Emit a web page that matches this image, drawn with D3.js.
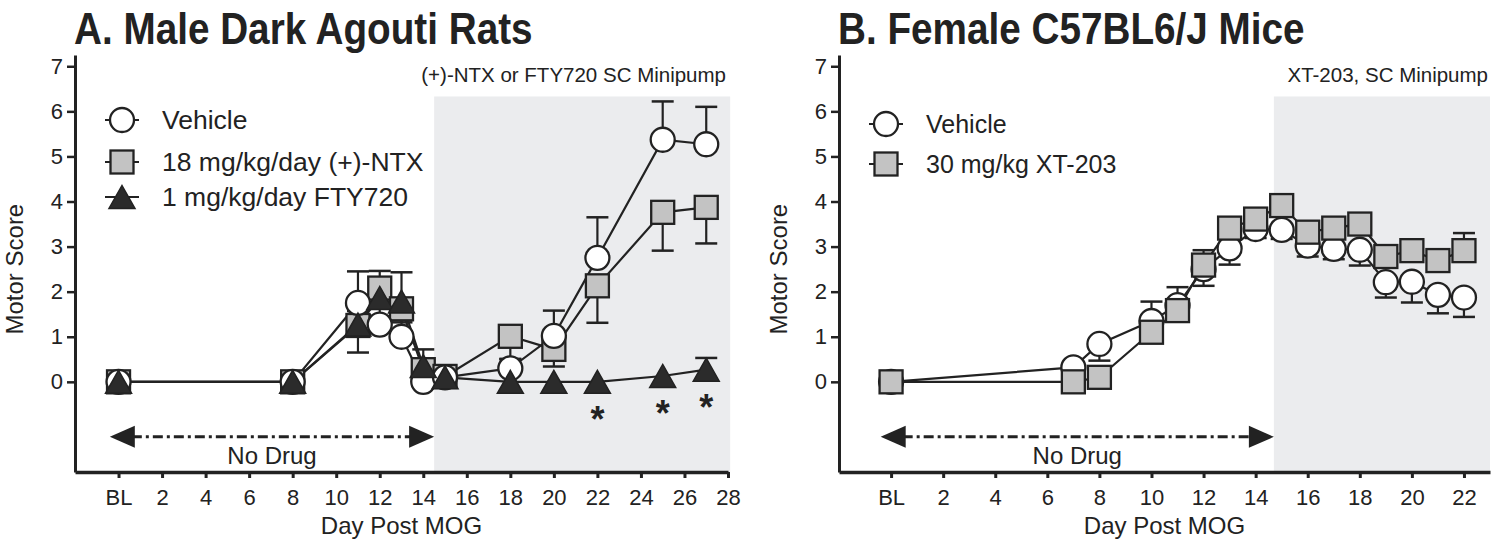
<!DOCTYPE html>
<html><head><meta charset="utf-8">
<script src="https://cdn.jsdelivr.net/npm/d3@7"></script>
<style>
body{margin:0;background:#fff;}
text{font-family:"Liberation Sans",Arial,sans-serif;fill:#222;}
</style></head>
<body><svg id="c" width="1500" height="554"></svg>
<script>
// ---------- DATA ----------
const ratDays = [0, 8, 11, 12, 13, 14, 15, 18, 20, 22, 25, 27];
const ratVehicle = [0, 0, 1.75, 1.27, 1.0, 0.0, 0.1, 0.3, 1.02, 2.75, 5.37, 5.27];
const ratVehicleSem = [0, 0, 0.7, 0.5, 0.45, 0, 0, 0.2, 0.56, 0.9, 0.85, 0.83];
const ratNTX = [0, 0, 1.25, 2.08, 1.62, 0.27, 0.12, 1.01, 0.72, 2.13, 3.76, 3.87];
const ratNTXSem = [0, 0, 0.6, 0.35, 0.3, 0.1, 0, 0.5, 0.38, 0.82, 0.85, 0.8];
const ratFTY = [0, 0, 1.27, 1.86, 1.78, 0.35, 0.1, 0, 0, 0, 0.13, 0.27];
const ratFTYSem = [0, 0, 0.3, 0.6, 0.65, 0.37, 0, 0, 0, 0, 0, 0.26];
const ratSignificantDays = [22, 25, 27];

const mouseDays = [0, 7, 8, 10, 11, 12, 13, 14, 15, 16, 17, 18, 19, 20, 21, 22];
const mouseVehicle = [0, 0.32, 0.84, 1.35, 1.7, 2.5, 2.96, 3.39, 3.37, 3.02, 2.95, 2.93, 2.21, 2.22, 1.93, 1.87];
const mouseVehicleSem = [0, 0, 0.37, 0.3, 0.3, 0.37, 0.36, 0.2, 0.2, 0.24, 0.23, 0.35, 0.34, 0.46, 0.41, 0.43];
const mouseXT = [0, 0, 0.1, 1.1, 1.58, 2.59, 3.41, 3.61, 3.91, 3.32, 3.41, 3.5, 2.78, 2.91, 2.69, 2.91];
const mouseXTSem = [0, 0, 0, 0.68, 0.52, 0.33, 0.2, 0.15, 0.15, 0.2, 0.2, 0.2, 0.2, 0.2, 0.2, 0.39];

const yTicks = [0, 1, 2, 3, 4, 5, 6, 7];
const ratXTicks = [0, 2, 4, 6, 8, 10, 12, 14, 16, 18, 20, 22, 24, 26, 28];
const mouseXTicks = [0, 2, 4, 6, 8, 10, 12, 14, 16, 18, 20, 22];
const baselineLabel = "BL";

const titles = ["A. Male Dark Agouti Rats", "B. Female C57BL6/J Mice"];
const treatLabels = ["(+)-NTX or FTY720 SC Minipump", "XT-203, SC Minipump"];
const ratLegend = ["Vehicle", "18 mg/kg/day (+)-NTX", "1 mg/kg/day FTY720"];
const mouseLegend = ["Vehicle", "30 mg/kg XT-203"];
const drugStart = [14.5, 14.7];
const drugEnd = [28.1, 23];

// ---------- DRAW ----------
const svg = d3.select("#c");
const INK = "#222";
const y = d3.scaleLinear().domain([-2, 7.25]).range([472, 55]);

function zip(days, vals, sem, dir) {
  return days.map((d, i) => ({ d, v: vals[i], s: sem[i], dir }));
}

function marker(g, type, cx, cy) {
  if (type === "circle") {
    g.append("circle").attr("cx", cx).attr("cy", cy).attr("r", 12)
      .attr("fill", "#fff").attr("stroke", INK).attr("stroke-width", 2.3);
  } else if (type === "square") {
    g.append("rect").attr("x", cx - 11.5).attr("y", cy - 11.5).attr("width", 23).attr("height", 23)
      .attr("fill", "#c3c3c3").attr("stroke", INK).attr("stroke-width", 2.3);
  } else {
    const w = 13, h = 11.5;
    g.append("path").attr("d", `M${cx},${cy - h}L${cx + w},${cy + h}L${cx - w},${cy + h}Z`)
      .attr("fill", "#2b2b2b").attr("stroke", INK).attr("stroke-width", 1.5).attr("stroke-linejoin", "miter");
  }
}

function panel(cfg) {
  const x = d3.scaleLinear().domain(cfg.domain).range(cfg.range);
  const g = svg.append("g");
  // shade
  g.append("rect")
    .attr("x", x(cfg.shade[0])).attr("width", x(cfg.shade[1]) - x(cfg.shade[0]))
    .attr("y", y(6.33)).attr("height", y(-2) - y(6.33))
    .attr("fill", "#ebecee");
  // axes
  const ya = g.append("g").attr("transform", `translate(${cfg.range[0]},0)`)
    .call(d3.axisLeft(y).tickValues(yTicks).tickSize(8).tickSizeOuter(0).tickPadding(4).tickFormat(d3.format("d")));
  ya.select(".domain").attr("stroke", INK).attr("stroke-width", 3);
  ya.selectAll(".tick line").attr("stroke", INK).attr("stroke-width", 2.5);
  ya.selectAll(".tick text").attr("font-size", 22).attr("fill", INK).attr("font-family", "Liberation Sans, Arial, sans-serif");
  const xa = g.append("g").attr("transform", `translate(0,${y(-2)})`)
    .call(d3.axisBottom(x).tickValues(cfg.ticks).tickSize(6).tickSizeOuter(0).tickPadding(11)
      .tickFormat(d => d === 0 ? baselineLabel : d));
  xa.select(".domain").attr("stroke", INK).attr("stroke-width", 3.5);
  xa.selectAll(".tick line").attr("stroke", INK).attr("stroke-width", 3);
  xa.selectAll(".tick text").attr("font-size", 22).attr("fill", INK).attr("font-family", "Liberation Sans, Arial, sans-serif");

  // titles
  g.append("text").attr("transform", `translate(${cfg.range[0] - 1},44) scale(0.86,1)`)
    .attr("font-size", 45).attr("font-weight", "bold").attr("fill", INK).text(cfg.title);
  g.append("text").attr("x", cfg.range[1] - 2).attr("y", 82).attr("text-anchor", "end").attr("font-size", 20.5)
    .attr("fill", INK).text(cfg.treat);
  g.append("text").attr("transform", `translate(${cfg.range[0] - 52},${y(2.5)}) rotate(-90)`)
    .attr("text-anchor", "middle").attr("font-size", 24).attr("fill", INK).text("Motor Score");
  g.append("text").attr("x", (cfg.range[0] + cfg.range[1]) / 2).attr("y", 534).attr("text-anchor", "middle")
    .attr("font-size", 24).attr("fill", INK).text("Day Post MOG");

  // No Drug arrow
  const ay = y(-1.22);
  const ax0 = x(-0.4), ax1 = x(cfg.shade[0]);
  g.append("line").attr("x1", ax0 + 22).attr("x2", ax1 - 22).attr("y1", ay).attr("y2", ay)
    .attr("stroke", INK).attr("stroke-width", 3).attr("stroke-dasharray", "10,4,3,4");
  g.append("path").attr("d", `M${ax0},${ay}L${ax0 + 25},${ay - 11}L${ax0 + 25},${ay + 11}Z`).attr("fill", INK);
  g.append("path").attr("d", `M${ax1},${ay}L${ax1 - 25},${ay - 11}L${ax1 - 25},${ay + 11}Z`).attr("fill", INK);
  g.append("text").attr("x", (ax0 + ax1) / 2).attr("y", ay + 27).attr("text-anchor", "middle")
    .attr("font-size", 24).attr("fill", INK).text("No Drug");

  // lines
  const line = d3.line().x(p => x(p.d)).y(p => y(p.v));
  cfg.series.forEach(s => {
    g.append("path").datum(s.pts).attr("d", line).attr("fill", "none")
      .attr("stroke", INK).attr("stroke-width", 2.2);
  });
  // error bars + markers in draw order
  cfg.order.forEach(idx => {
    const s = cfg.series[idx];
    s.pts.forEach(p => {
      if (p.s > 0) {
        const yEnd = y(p.v + p.dir * p.s);
        g.append("line").attr("x1", x(p.d)).attr("x2", x(p.d)).attr("y1", y(p.v)).attr("y2", yEnd)
          .attr("stroke", INK).attr("stroke-width", 2.2);
        g.append("line").attr("x1", x(p.d) - 11).attr("x2", x(p.d) + 11).attr("y1", yEnd).attr("y2", yEnd)
          .attr("stroke", INK).attr("stroke-width", 2.5);
      }
    });
  });
  cfg.order.forEach(idx => {
    const s = cfg.series[idx];
    s.pts.forEach(p => marker(g, s.type, x(p.d), y(p.v)));
  });

  // legend
  cfg.legend.forEach((lab, i) => {
    const s = cfg.series[i];
    const ly = cfg.legendY[i];
    const lx = cfg.legendX;
    g.append("line").attr("x1", lx - 17).attr("x2", lx + 17).attr("y1", ly).attr("y2", ly)
      .attr("stroke", INK).attr("stroke-width", 2.2);
    marker(g, s.type, lx, ly);
    g.append("text").attr("x", lx + 40).attr("y", ly + 9).attr("font-size", cfg.legendFont).attr("fill", INK).text(lab);
  });
  return { g, x };
}

const left = panel({
  domain: [-2, 28], range: [75, 728], ticks: ratXTicks, shade: [drugStart[0], drugEnd[0]],
  title: titles[0], treat: treatLabels[0],
  series: [
    { type: "circle", pts: zip(ratDays, ratVehicle, ratVehicleSem, 1) },
    { type: "square", pts: zip(ratDays, ratNTX, ratNTXSem, -1) },
    { type: "triangle", pts: zip(ratDays, ratFTY, ratFTYSem, 1) }
  ],
  order: [1, 0, 2],
  legend: ratLegend, legendX: 122, legendY: [120, 162, 197], legendFont: 26.5
});
// significance asterisks
ratSignificantDays.forEach(d => {
  const v = ratFTY[ratDays.indexOf(d)];
  left.g.append("text").attr("x", left.x(d)).attr("y", y(v) + 50).attr("text-anchor", "middle")
    .attr("font-size", 36).attr("font-weight", "bold").attr("fill", INK).text("*");
});

panel({
  domain: [-2, 23], range: [839, 1490], ticks: mouseXTicks, shade: [drugStart[1], drugEnd[1]],
  title: titles[1], treat: treatLabels[1],
  series: [
    { type: "circle", pts: zip(mouseDays, mouseVehicle, mouseVehicleSem, -1) },
    { type: "square", pts: zip(mouseDays, mouseXT, mouseXTSem, 1) }
  ],
  order: [0, 1],
  legend: mouseLegend, legendX: 886, legendY: [124, 164], legendFont: 25
});
</script></body></html>
